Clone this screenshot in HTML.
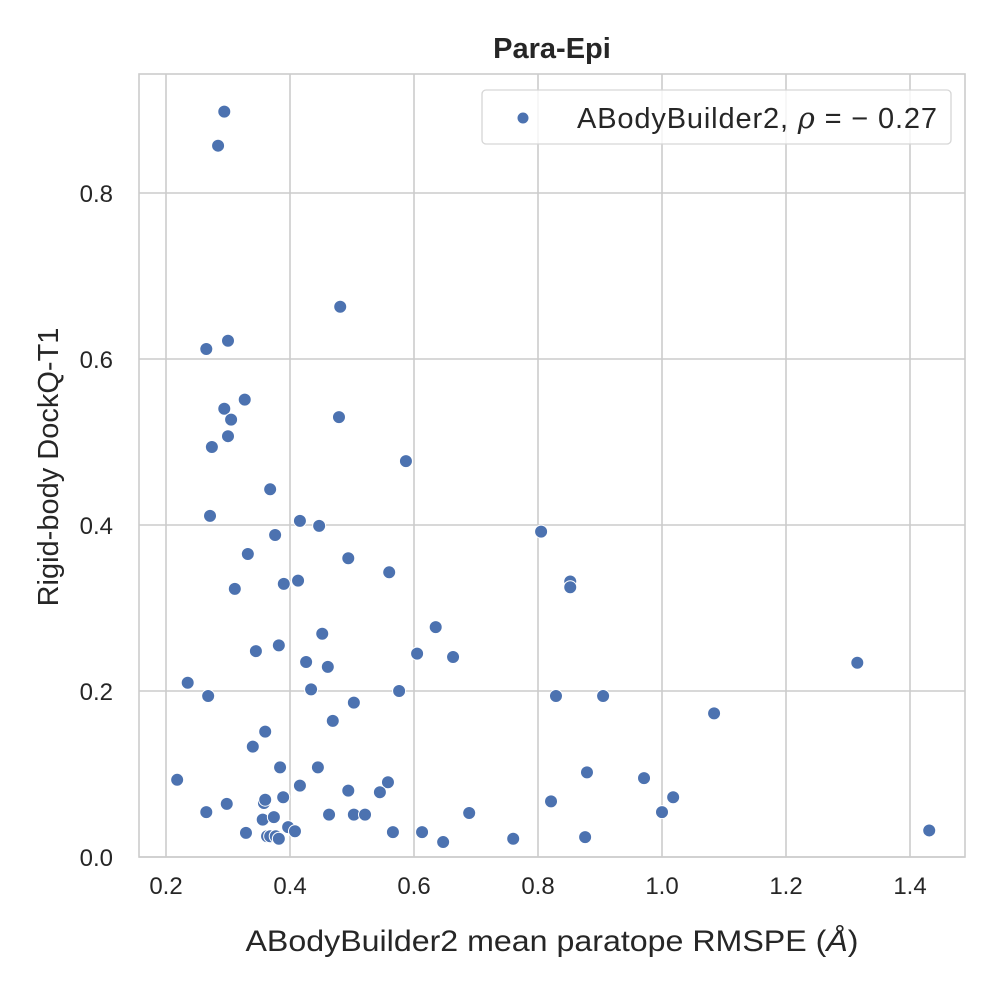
<!DOCTYPE html>
<html><head><meta charset="utf-8"><style>
html,body{margin:0;padding:0;background:#fff;}
svg{display:block;font-family:"Liberation Sans","DejaVu Sans",sans-serif;}
</style></head><body>
<svg id="chart" width="1000" height="1000" viewBox="0 0 1000 1000" xmlns="http://www.w3.org/2000/svg">
<rect width="1000" height="1000" fill="#fff"/>
<g id="grid"></g>
<rect x="139" y="74" width="826" height="783" fill="none" stroke="#cccccc" stroke-width="1.6"/>
<g id="points"></g>
<g id="ticks" font-size="24" fill="#262626"></g>
<text x="552" y="58" text-anchor="middle" font-size="29" font-weight="bold" fill="#262626">Para-Epi</text>
<text x="552" y="951" text-anchor="middle" font-size="30" fill="#262626" textLength="613" lengthAdjust="spacingAndGlyphs">ABodyBuilder2 mean paratope RMSPE (<tspan font-style="italic">Å</tspan>)</text>
<text transform="translate(58,467) rotate(-90)" text-anchor="middle" font-size="29" fill="#262626">Rigid-body DockQ-T1</text>
<g>
<rect x="482" y="90" width="469" height="54" rx="4" fill="#fff" fill-opacity="0.8" stroke="#d6d6d6" stroke-width="1.3"/>
<circle cx="523" cy="118" r="6" fill="#4c72b0" stroke="#fff" stroke-width="1"/>
<text x="577" y="128" font-size="29" fill="#262626" textLength="360" lengthAdjust="spacing">ABodyBuilder2, <tspan font-family="DejaVu Serif, serif" font-style="italic">ρ</tspan> =  −  0.27</text>
</g>
</svg>
<script>
const xTicks = [0.2, 0.4, 0.6, 0.8, 1.0, 1.2, 1.4];
const yTicks = [0.0, 0.2, 0.4, 0.6, 0.8];
const xTickLabels = ["0.2","0.4","0.6","0.8","1.0","1.2","1.4"];
const yTickLabels = ["0.0","0.2","0.4","0.6","0.8"];
const rmspe = [0.294,0.284,0.481,0.265,0.300,0.327,0.294,0.305,0.300,0.274,0.479,0.587,0.368,0.271,0.416,0.447,0.376,0.805,0.494,0.332,0.560,0.413,0.390,0.311,0.852,0.852,0.635,0.605,0.663,0.576,0.829,0.905,1.084,1.315,0.879,0.971,1.018,1.000,0.821,0.689,0.876,0.760,0.647,0.613,0.566,1.431,0.558,
0.452,0.382,0.345,0.426,0.461,0.235,0.268,0.434,0.503,0.469,0.360,0.340,0.384,0.445,0.218,0.416,0.494,0.545,0.389,0.358,0.360,0.298,0.265,0.463,0.503,0.521,0.356,0.374,0.397,0.408,0.329,0.363,0.368,0.377,0.382];
const dockq = [0.898,0.857,0.663,0.612,0.622,0.551,0.540,0.527,0.507,0.494,0.530,0.477,0.443,0.411,0.405,0.399,0.388,0.392,0.360,0.365,0.343,0.333,0.329,0.323,0.332,0.325,0.277,0.245,0.241,0.200,0.194,0.194,0.173,0.234,0.102,0.095,0.072,0.054,0.067,0.053,0.024,0.022,0.018,0.030,0.030,0.032,0.090,
0.269,0.255,0.248,0.235,0.229,0.210,0.194,0.202,0.186,0.164,0.151,0.133,0.108,0.108,0.093,0.086,0.080,0.078,0.072,0.065,0.069,0.064,0.054,0.051,0.051,0.051,0.045,0.048,0.036,0.031,0.029,0.025,0.025,0.025,0.022];

const NS = "http://www.w3.org/2000/svg";
const X = v => 166 + (v - 0.2) * 620;
const Y = v => 857 - v * 830;
const grid = document.getElementById('grid');
const ticks = document.getElementById('ticks');
const pts = document.getElementById('points');

xTicks.forEach((t, i) => {
  const l = document.createElementNS(NS, 'line');
  
  
  l.setAttribute('x1', X(t)); l.setAttribute('x2', X(t));
  l.setAttribute('y1', 74); l.setAttribute('y2', 857);
  l.setAttribute('stroke', '#cccccc'); l.setAttribute('stroke-width', '1.6');
  grid.appendChild(l);
  const tx = document.createElementNS(NS, 'text');
  
  
  tx.setAttribute('x', X(t)); tx.setAttribute('y', 894);
  tx.setAttribute('text-anchor', 'middle');
  tx.textContent = xTickLabels[i];
  ticks.appendChild(tx);
});
yTicks.forEach((t, i) => {
  const l = document.createElementNS(NS, 'line');
  
  
  l.setAttribute('x1', 139); l.setAttribute('x2', 965);
  l.setAttribute('y1', Y(t)); l.setAttribute('y2', Y(t));
  l.setAttribute('stroke', '#cccccc'); l.setAttribute('stroke-width', '1.6');
  grid.appendChild(l);
  const tx = document.createElementNS(NS, 'text');
  
  
  tx.setAttribute('x', 113); tx.setAttribute('y', Y(t) + 9);
  tx.setAttribute('text-anchor', 'end');
  tx.textContent = yTickLabels[i];
  ticks.appendChild(tx);
});
rmspe.forEach((v, i) => {
  const c = document.createElementNS(NS, 'circle');
  
  
  c.setAttribute('cx', X(v)); c.setAttribute('cy', Y(dockq[i]));
  c.setAttribute('r', 6.5);
  c.setAttribute('fill', '#4c72b0'); c.setAttribute('stroke', '#fff'); c.setAttribute('stroke-width', '1');
  pts.appendChild(c);
});
</script>
</body></html>
